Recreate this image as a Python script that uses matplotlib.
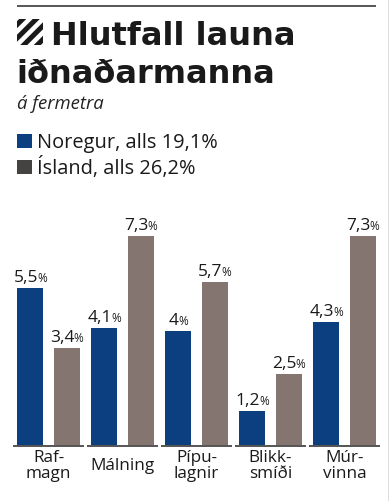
import numpy as np
import matplotlib
matplotlib.use("Agg")
from matplotlib import pyplot as plt
from matplotlib.transforms import blended_transform_factory
from matplotlib.offsetbox import TextArea, HPacker, AnnotationBbox

categories = ["Raf-\nmagn", "Málning", "Pípu-\nlagnir", "Blikk-\nsmíði", "Múr-\nvinna"]
noregur = [5.5, 4.1, 4.0, 1.2, 4.3]
island = [3.4, 7.3, 5.7, 2.5, 7.3]
noregur_lbl = ["5,5", "4,1", "4", "1,2", "4,3"]
island_lbl = ["3,4", "7,3", "5,7", "2,5", "7,3"]

subtitle = "á fermetra"
legend_items = ["Noregur, alls 19,1%", "Ísland, alls 26,2%"]

BLUE = "#0b3f7f"
GREY = "#857570"
LEG_GREY = "#454242"
W, H = 390, 501

plt.rcParams['font.family'] = ['Open Sans', 'DejaVu Sans']

fig = plt.figure(figsize=(W / 100, H / 100), dpi=100)


def fx(px):
    return px / W


def fy(py):
    return 1 - py / H


# overlay in pixel units (top-left origin) for the decorations
deco = fig.add_axes([0, 0, 1, 1])
deco.set_xlim(0, W)
deco.set_ylim(H, 0)
deco.axis("off")
deco.add_patch(plt.Rectangle((17, 4.5), 359, 2, color="#5a5a5a", lw=0,
                             clip_on=False))
deco.add_patch(plt.Rectangle((388, 0), 1, H, color="#dddddd", lw=0,
                             clip_on=False))

# striped icon
ic = fig.add_axes([fx(17), fy(45), fx(26), 26 / H])
ic.set_xlim(0, 1)
ic.set_ylim(0, 1)
ic.axis("off")
for c in [0.78, 0.26, -0.26, -0.78]:
    ic.plot([-0.5, 1.5], [-0.5 + c, 1.5 + c], color="#1a1a1a", lw=3.6,
            solid_capstyle="butt")

fig.text(fx(51), fy(45), "Hlutfall launa", fontsize=23, fontweight="bold",
         family="DejaVu Sans", va="baseline", color="#1a1a1a")
fig.text(fx(16), fy(83), "iðnaðarmanna", fontsize=23, fontweight="bold",
         family="DejaVu Sans", va="baseline", color="#1a1a1a")
fig.text(fx(17), fy(109), subtitle, fontsize=13.3, style="italic",
         va="baseline", color="#222222")

# legend
for i, (lab, col) in enumerate(zip(legend_items, [BLUE, LEG_GREY])):
    y0 = 134 + i * 26
    deco.add_patch(plt.Rectangle((17, y0), 15, 14, color=col, lw=0))
    fig.text(fx(37), fy(y0 + 14), lab, fontsize=14.4, va="baseline", color="#1a1a1a")

# bars
ax = fig.add_axes([0, fy(445.5), 1, 225.5 / H])
ax.axis("off")
x = np.arange(len(categories))
bw = 26 / 74
off = 18.3 / 74
ax.set_xlim(-48.5 / 74, (W - 48.5) / 74)
ax.set_ylim(0, 7.86)

ax.bar(x - off, noregur, bw, color=BLUE)
ax.bar(x + off, island, bw, color=GREY)

for xi in x:
    ax.plot([xi - 0.475, xi + 0.475], [0, 0], color="#555555", lw=1.4,
            solid_capstyle="butt", clip_on=False)


def value_label(xp, h, txt):
    num = TextArea(txt, textprops=dict(fontsize=12.5, color="#1a1a1a"))
    pct = TextArea("%", textprops=dict(fontsize=8.5, color="#1a1a1a"))
    box = HPacker(children=[num, pct], align="baseline", pad=0, sep=-0.5)
    ab = AnnotationBbox(box, (xp, h), xybox=(0, 1.5), boxcoords="offset points",
                        box_alignment=(0.5, 0), frameon=False, pad=0,
                        annotation_clip=False)
    ax.add_artist(ab)


for xi, v, t in zip(x, noregur, noregur_lbl):
    value_label(xi - off, v, t)
for xi, v, t in zip(x, island, island_lbl):
    value_label(xi + off, v, t)

tr = blended_transform_factory(ax.transData, fig.transFigure)
for xi, cat in zip(x, categories):
    ax.text(xi, fy(466), cat, transform=tr, ha="center", va="center",
            fontsize=12.3, linespacing=1.05, color="#1a1a1a")

fig.savefig("out.png", dpi=100)
